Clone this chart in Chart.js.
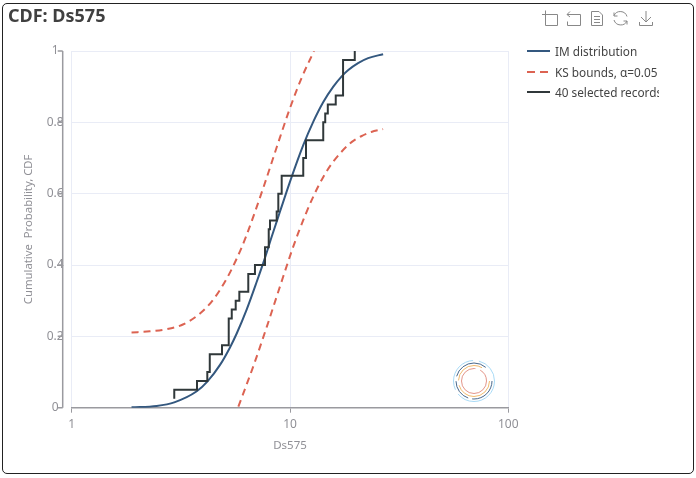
<!DOCTYPE html>
<html>
<head>
<meta charset="utf-8">
<script src="https://cdn.jsdelivr.net/npm/chart.js@4"></script>
<style>
html, body { margin: 0; padding: 0; background: #fff; }
body { width: 696px; height: 478px; position: relative; overflow: hidden; font-family: "Noto Sans", sans-serif; }
#frame { position: absolute; left: 2px; top: 3px; width: 690px; height: 469px; border: 1px solid #222; border-radius: 5px; }
#title { position: absolute; left: 8px; top: 3px; font-size: 18px; font-weight: bold; color: #404040; line-height: 24px; }
#chartBox { position: absolute; left: 0; top: 0; width: 696px; height: 478px; }
#legend { position: absolute; left: 527px; top: 41px; width: 132px; overflow: hidden; font-size: 11.8px; color: #444; }
#legend div { height: 20.5px; line-height: 20px; white-space: nowrap; display: flex; align-items: center; }
#legend svg { flex: none; margin-right: 5px; }
#tools { position: absolute; left: 541px; top: 9px; }
#loader { position: absolute; left: 452px; top: 359px; }
</style>
</head>
<body>
<div id="frame"></div>
<div id="chartBox"><canvas id="cdfCanvas" width="696" height="478"></canvas></div>
<div id="title">CDF: Ds575</div>
<div id="legend"></div>
<svg id="tools" width="112" height="20" fill="none" stroke="#888" stroke-width="1">
  <path d="M3 5.500H16.500V16.500H4.500V1.500M1 5.500H4.500"/>
  <path d="M26 5.500H39.500V16.500H26.500V12.500M26 5.500L29 2.500M26 5.500L29 8"/>
  <path d="M50.500 2.500H58L61.500 6V16.500H50.500ZM53 7.500H59M53 10.500H59M53 13.500H59"/>
  <path d="M73 6.500A7 7 0 0 1 86 7.500M86 12A7 7 0 0 1 73 11M73 3.500V7H76.500M86 15.500V12H82.500"/>
  <path d="M105 2V13M100 8L105 13L110 8M98.500 13V16.500H111.500V13"/>
</svg>
<svg id="loader" width="44" height="44" fill="none" stroke-width="1" stroke-opacity="0.9">
  <circle cx="22" cy="22" r="20.500" stroke="#9fd6f5" stroke-dasharray="50 5 40 6 28 0"/>
  <circle cx="22" cy="22" r="18" stroke="#34587f" stroke-dasharray="30 4 22 5 36 16"/>
  <circle cx="22" cy="22" r="15.500" stroke="#eeb25e" stroke-dasharray="44 5 32 16"/>
  <circle cx="22" cy="22" r="12.500" stroke="#e08a7c" stroke-dasharray="60 5 14 0"/>
</svg>
<script>
const imX = [1.88, 2.45, 2.95, 3.74, 4.18, 4.78, 5.31, 5.70, 6.33, 7.04, 7.68, 8.25, 9.00, 10.03, 11.50, 12.79, 14.21, 15.79, 17.25, 18.44, 20.5, 22.8, 26.7];
const imY = [0.001, 0.005, 0.015, 0.046, 0.073, 0.12, 0.169, 0.208, 0.275, 0.353, 0.42, 0.48, 0.55, 0.636, 0.736, 0.802, 0.857, 0.9, 0.929, 0.946, 0.966, 0.98, 0.991];

const upperX = [1.88, 2.28, 2.72, 3.25, 3.87, 4.45, 5.13, 5.70, 6.29, 7.55, 8.69, 10.0, 11.31, 12.88];
const upperY = [0.211, 0.214, 0.22, 0.234, 0.264, 0.303, 0.362, 0.418, 0.48, 0.617, 0.73, 0.84, 0.925, 1];

const lowerX = [5.80, 6.79, 7.82, 9.00, 10.0, 10.91, 12.57, 14.21, 15.79, 18.77, 21.21, 23.58, 26.7];
const lowerY = [0.003, 0.116, 0.226, 0.34, 0.425, 0.49, 0.582, 0.647, 0.69, 0.74, 0.761, 0.773, 0.781];

const recordX = [2.95, 2.95, 3.75, 4.18, 4.29, 4.88, 5.24, 5.41, 5.64, 5.86, 6.44, 6.91, 7.68, 7.99, 8.1, 8.69, 8.84, 9.16, 11.5, 11.84, 14.2, 14.5, 14.9, 16.2, 17.5, 19.8];
const recordY = [0.025, 0.05, 0.075, 0.1, 0.15, 0.175, 0.25, 0.275, 0.3, 0.325, 0.375, 0.4, 0.45, 0.5, 0.525, 0.55, 0.6, 0.65, 0.7, 0.75, 0.8, 0.825, 0.85, 0.875, 0.975, 1];

const xTicks = [1, 10, 100];
const legendNames = ["IM distribution", "KS bounds, α=0.05", "40 selected records"];

const BLUE = '#34587f', RED = '#dc6352', DARK = '#30383a', AXIS = '#9a9a9f', GRID = '#e9ecf6', TEXT = '#909096';

const pts = (xs, ys) => xs.map((x, i) => ({ x: x, y: ys[i] }));

// y axis line sits a few px left of the grid
const yAxisOffset = {
    id: 'yAxisOffset',
    afterDraw(chart) {
        const ctx = chart.ctx, y = chart.scales.y, px = chart.chartArea.left - 9;
        ctx.save();
        ctx.strokeStyle = AXIS;
        ctx.lineWidth = 1.5;
        ctx.beginPath();
        ctx.moveTo(px, chart.chartArea.top);
        ctx.lineTo(px, chart.chartArea.bottom);
        y.ticks.forEach(t => {
            const py = y.getPixelForValue(t.value);
            ctx.moveTo(px, py);
            ctx.lineTo(px - 5, py);
        });
        ctx.stroke();
        ctx.restore();
    }
};

const curve = { pointRadius: 0, borderWidth: 2, fill: false, cubicInterpolationMode: 'monotone' };

new Chart(document.getElementById('cdfCanvas').getContext('2d'), {
    type: 'line',
    data: {
        datasets: [
            { ...curve, label: legendNames[1], data: pts(upperX, upperY), borderColor: RED, borderDash: [7, 5] },
            { ...curve, label: legendNames[1], data: pts(lowerX, lowerY), borderColor: RED, borderDash: [7, 5] },
            { pointRadius: 0, borderWidth: 2, label: legendNames[2], data: pts(recordX, recordY), borderColor: DARK, stepped: 'before' },
            { ...curve, label: legendNames[0], data: pts(imX, imY), borderColor: BLUE }
        ]
    },
    options: {
        responsive: false,
        animation: false,
        layout: { padding: { top: 51, right: 187.7, bottom: 25.3, left: 0 } },
        plugins: { legend: { display: false }, tooltip: { enabled: false } },
        scales: {
            x: {
                type: 'logarithmic', min: 1, max: 100,
                afterBuildTicks: s => { s.ticks = xTicks.map(v => ({ value: v })); },
                afterFit: s => { s.height = 45; },
                grid: { color: GRID, tickColor: AXIS, tickLength: 5 },
                border: { color: AXIS, width: 1.5 },
                ticks: { color: TEXT, font: { family: 'Noto Sans', size: 12 }, padding: 5, maxRotation: 0, autoSkip: false, callback: v => String(v) },
                title: { display: true, text: 'Ds575', color: TEXT, font: { family: 'Noto Sans', size: 11.500 }, padding: { top: 4, bottom: 0 } }
            },
            y: {
                min: 0, max: 1,
                afterFit: s => { s.width = 71.7; },
                grid: { color: GRID, tickLength: 0 },
                border: { display: false },
                ticks: { stepSize: 0.2, color: TEXT, font: { family: 'Noto Sans', size: 12 }, padding: 8, crossAlign: 'center', callback: v => String(+v.toFixed(1)) },
                title: { display: true, text: 'Cumulative  Probability, CDF', color: TEXT, font: { family: 'Noto Sans', size: 11.300 }, padding: { top: 22, bottom: 0 } }
            }
        }
    },
    plugins: [yAxisOffset]
});

// legend is plain html so the long name gets cut like in the original
const legendStyles = [[BLUE, ''], [RED, '8 5'], [DARK, '']];
document.getElementById('legend').innerHTML = legendNames.map((name, i) =>
    `<div><svg width="23" height="4"><line x1="0" y1="2" x2="23" y2="2" stroke="${legendStyles[i][0]}" stroke-width="2" stroke-dasharray="${legendStyles[i][1]}"/></svg>${name}</div>`
).join('');
</script>
</body>
</html>
